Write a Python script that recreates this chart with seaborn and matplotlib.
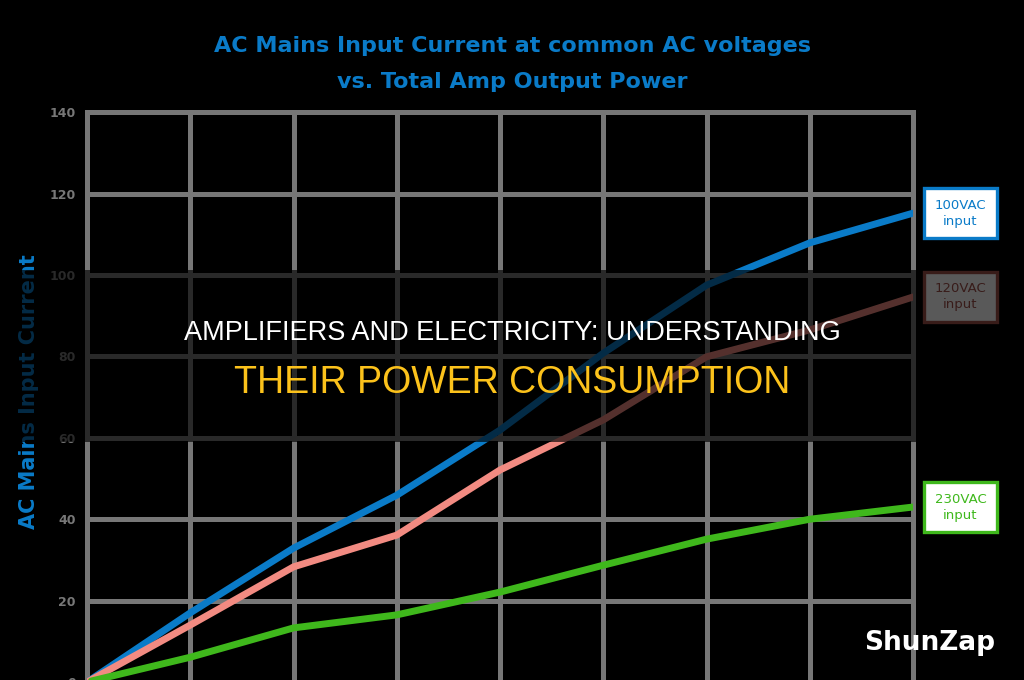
import numpy as np
import pandas as pd
import matplotlib.pyplot as plt
import seaborn as sns
from matplotlib.patches import Rectangle

# x = output power steps (axis labels not shown in the picture)
power_steps = [0, 1, 2, 3, 4, 5, 6, 7, 8]
current_100vac = [0, 17.0, 32.9, 45.9, 61.9, 80.8, 97.5, 107.9, 115.2]
current_120vac = [0, 14.0, 28.3, 36.1, 52.1, 64.4, 79.9, 86.5, 94.6]
current_230vac = [0, 6.1, 13.3, 16.5, 22.1, 28.7, 35.1, 40.0, 43.0]
series_names = ['100VAC\ninput', '120VAC\ninput', '230VAC\ninput']
y_ticks = [0, 20, 40, 60, 80, 100, 120, 140]

colors = ['#0a7bc8', '#f28b82', '#3fb81c']
grid_gray = '#777777'

df = pd.DataFrame({
    'power': power_steps * 3,
    'current': current_100vac + current_120vac + current_230vac,
    'series': [n for n in series_names for _ in power_steps],
})

sns.set_style('dark')
plt.rcParams['font.family'] = ['DejaVu Sans']

fig = plt.figure(figsize=(10.24, 6.8), dpi=100, facecolor='black')
ax = fig.add_axes([0.085, -0.003, 0.8066, 0.838])
ax.set_facecolor('black')

sns.lineplot(data=df, x='power', y='current', hue='series',
             palette=colors, linewidth=5, legend=False, ax=ax, zorder=3)

ax.set_xlim(0, 8)
ax.set_ylim(0, 140)
ax.set_xticks(power_steps)
ax.set_yticks(y_ticks)
ax.set_xticklabels([])
ax.grid(True, color=grid_gray, linewidth=3.6)
ax.tick_params(axis='both', length=0)
ax.tick_params(axis='y', pad=8, labelsize=9, labelcolor=grid_gray)
for lab in ax.get_yticklabels():
    lab.set_fontweight('bold')
for s in ax.spines.values():
    s.set_color(grid_gray)
    s.set_linewidth(3.6)
ax.set_xlabel('')
ax.set_ylabel('AC Mains Input Current', color=colors[0], fontsize=15,
              fontweight='heavy')
ax.yaxis.set_label_coords(-0.058, 0.51)

# series labels boxed to the right of each line end
ends = [current_100vac[-1], current_120vac[-1], current_230vac[-1]]
edge_colors = [colors[0], '#a0504a', colors[2]]
for name, yv, ec in zip(series_names, ends, edge_colors):
    ax.text(8.46, yv, name, ha='center', va='center', fontsize=9.5,
            color=ec, linespacing=1.3, clip_on=False, zorder=5,
            bbox=dict(boxstyle='square,pad=0.8', facecolor='white',
                      edgecolor=ec, linewidth=2.4))

fig.text(0.5, 0.906, 'AC Mains Input Current at common AC voltages\nvs. Total Amp Output Power',
         ha='center', va='center', ma='center', color=colors[0],
         fontsize=16, fontweight='heavy', linespacing=2.0)

# dark banner across the middle
fig.add_artist(Rectangle((0, 0.35), 1, 0.253, transform=fig.transFigure,
                         facecolor='black', edgecolor='none', linewidth=0,
                         alpha=0.65, zorder=10))
fig.text(0.5, 1 - 333 / 680, 'AMPLIFIERS AND ELECTRICITY: UNDERSTANDING',
         ha='center', va='center', color='white', fontsize=19.5,
         family=['Liberation Sans', 'DejaVu Sans'], zorder=11)
fig.text(0.5, 1 - 383 / 680, 'THEIR POWER CONSUMPTION',
         ha='center', va='center', color='#fcc21b', fontsize=27,
         family=['Liberation Sans', 'DejaVu Sans'], zorder=11)

fig.text(0.908, 1 - 643 / 680, 'ShunZap', ha='center', va='center',
         color='white', fontsize=19, fontweight='bold', zorder=11)

fig.savefig('out.png', dpi=100, facecolor='black')
